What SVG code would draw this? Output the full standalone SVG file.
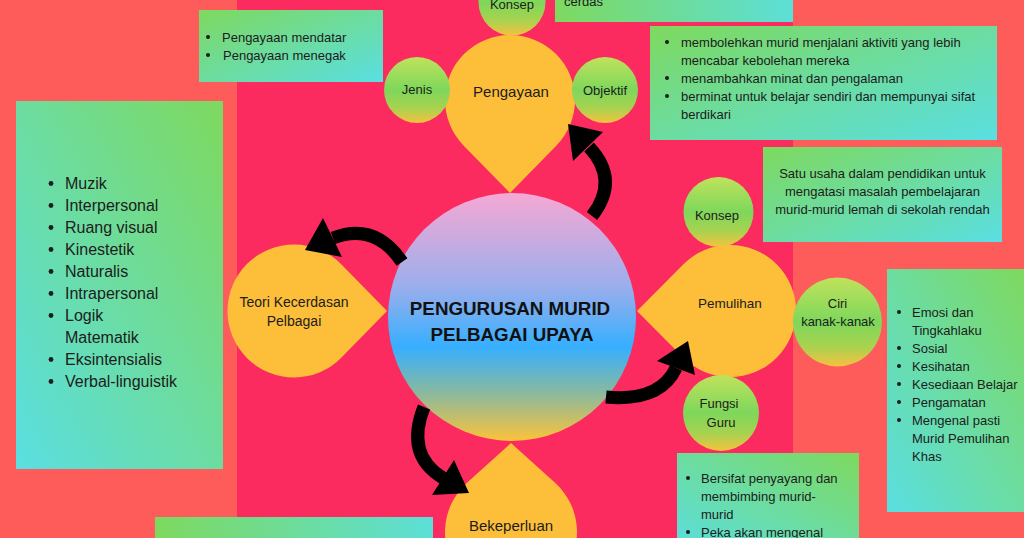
<svg xmlns="http://www.w3.org/2000/svg" width="1024" height="538" viewBox="0 0 1024 538">
<defs>
<linearGradient id="boxA" x1="0" y1="0" x2="1" y2="1"><stop offset="0" stop-color="#7ED95E"/><stop offset="1" stop-color="#5ADFE2"/></linearGradient>
<linearGradient id="boxB" x1="1" y1="0" x2="0" y2="1"><stop offset="0" stop-color="#7ED95E"/><stop offset="1" stop-color="#5ADFE2"/></linearGradient>
<linearGradient id="boxC" x1="0" y1="0" x2="1" y2="0"><stop offset="0" stop-color="#7ED95E"/><stop offset="1" stop-color="#5CDFD8"/></linearGradient>
<linearGradient id="boxD" x1="0" y1="1" x2="1" y2="0"><stop offset="0" stop-color="#5ADFE2"/><stop offset="1" stop-color="#7ED95E"/></linearGradient>
<linearGradient id="small" x1="0" y1="0" x2="0" y2="1"><stop offset="0" stop-color="#C0E25C"/><stop offset="0.5" stop-color="#7ED75B"/><stop offset="0.78" stop-color="#A9D24F"/><stop offset="1" stop-color="#F6C13F"/></linearGradient>
<linearGradient id="core" x1="0" y1="0" x2="0" y2="1"><stop offset="0" stop-color="#F6A8D4"/><stop offset="0.38" stop-color="#9AAEEC"/><stop offset="0.62" stop-color="#36AFFF"/><stop offset="0.8" stop-color="#86B9A2"/><stop offset="1" stop-color="#FCC23A"/></linearGradient>
</defs>
<style>
text{font-family:"Liberation Sans",Arial,sans-serif;fill:#1c1c1c}
.t13{font-size:13px}
.t15{font-size:15px}
.t16{font-size:16px}
.mid{text-anchor:middle}
.drop{fill:#FDBF3A}
.sc{fill:url(#small)}
.bul{fill:#1c1c1c}
.arr{fill:none;stroke:#000;stroke-width:13}
.head{fill:#000}
</style>
<rect x="0" y="0" width="1024" height="538" fill="#FE5B5B"/>
<rect x="237" y="0" width="556" height="538" fill="#FB2A5F"/>

<g id="box-top-right">
<rect x="555" y="-20" width="238" height="42" fill="url(#boxC)"/>
<text class="t13" x="564" y="6">cerdas</text>
</g>

<g id="box-jenis">
<rect x="199" y="10" width="184" height="72" fill="url(#boxA)"/>
<circle class="bul" cx="208" cy="37" r="2"/><text class="t13" x="222" y="41.5">Pengayaan mendatar</text>
<circle class="bul" cx="208" cy="55" r="2"/><text class="t13" x="223" y="59.5">Pengayaan menegak</text>
</g>

<g id="box-objektif">
<rect x="650" y="26" width="347" height="114" fill="url(#boxA)"/>
<circle class="bul" cx="667" cy="42" r="2"/><text class="t13" x="681" y="46.5">membolehkan murid menjalani aktiviti yang lebih</text>
<text class="t13" x="681" y="64.5">mencabar kebolehan mereka</text>
<circle class="bul" cx="667" cy="78" r="2"/><text class="t13" x="681" y="82.5">menambahkan minat dan pengalaman</text>
<circle class="bul" cx="667" cy="96" r="2"/><text class="t13" x="681" y="100.5">berminat untuk belajar sendiri dan mempunyai sifat</text>
<text class="t13" x="681" y="118.5">berdikari</text>
</g>

<g id="box-konsep-pemulihan">
<rect x="763" y="147" width="239" height="95" fill="url(#boxA)"/>
<text class="t13 mid" x="882.5" y="177.5">Satu usaha dalam pendidikan untuk</text>
<text class="t13 mid" x="882.5" y="195.5">mengatasi masalah pembelajaran</text>
<text class="t13 mid" x="882.5" y="213.5">murid-murid lemah di sekolah rendah</text>
</g>

<g id="box-kecerdasan">
<rect x="16" y="101" width="207" height="368" fill="url(#boxB)"/>
<circle class="bul" cx="51" cy="183.5" r="2.4"/><text class="t16" x="65" y="189">Muzik</text>
<circle class="bul" cx="51" cy="205.5" r="2.4"/><text class="t16" x="65" y="211">Interpersonal</text>
<circle class="bul" cx="51" cy="227.5" r="2.4"/><text class="t16" x="65" y="233">Ruang visual</text>
<circle class="bul" cx="51" cy="249.5" r="2.4"/><text class="t16" x="65" y="255">Kinestetik</text>
<circle class="bul" cx="51" cy="271.5" r="2.4"/><text class="t16" x="65" y="277">Naturalis</text>
<circle class="bul" cx="51" cy="293.5" r="2.4"/><text class="t16" x="65" y="299">Intrapersonal</text>
<circle class="bul" cx="51" cy="315.5" r="2.4"/><text class="t16" x="65" y="321">Logik</text>
<text class="t16" x="65" y="343">Matematik</text>
<circle class="bul" cx="51" cy="359.5" r="2.4"/><text class="t16" x="65" y="365">Eksintensialis</text>
<circle class="bul" cx="51" cy="381.5" r="2.4"/><text class="t16" x="65" y="387">Verbal-linguistik</text>
</g>

<g id="box-ciri">
<rect x="887" y="269" width="140" height="243" fill="url(#boxB)"/>
<circle class="bul" cx="899" cy="312" r="2"/><text class="t13" x="912" y="316.5">Emosi dan</text>
<text class="t13" x="912" y="334.5">Tingkahlaku</text>
<circle class="bul" cx="899" cy="348" r="2"/><text class="t13" x="912" y="352.5">Sosial</text>
<circle class="bul" cx="899" cy="366" r="2"/><text class="t13" x="912" y="370.5">Kesihatan</text>
<circle class="bul" cx="899" cy="384" r="2"/><text class="t13" x="912" y="388.5">Kesediaan Belajar</text>
<circle class="bul" cx="899" cy="402" r="2"/><text class="t13" x="912" y="406.5">Pengamatan</text>
<circle class="bul" cx="899" cy="420" r="2"/><text class="t13" x="912" y="424.5">Mengenal pasti</text>
<text class="t13" x="912" y="442.5">Murid Pemulihan</text>
<text class="t13" x="912" y="460.5">Khas</text>
</g>

<g id="box-fungsi-guru">
<rect x="677" y="453" width="182" height="100" fill="url(#boxD)"/>
<circle class="bul" cx="688" cy="478" r="2"/><text class="t13" x="701" y="482.5">Bersifat penyayang dan</text>
<text class="t13" x="701" y="500.5">membimbing murid-</text>
<text class="t13" x="701" y="518.5">murid</text>
<circle class="bul" cx="688" cy="532" r="2"/><text class="t13" x="701" y="536.5">Peka akan mengenal</text>
</g>

<g id="box-bottom-left">
<rect x="155" y="517" width="278" height="40" fill="url(#boxC)"/>
</g>

<g id="node-pengayaan">
<path class="drop" d="M510 193 L556.5 145.4 A65 65 0 1 0 463.5 145.4 Z"/>
<text class="t15 mid" x="511" y="96.5">Pengayaan</text>
</g>
<g id="node-pengayaan-konsep">
<circle class="sc" cx="512" cy="2" r="33.5"/>
<text class="t13 mid" x="512" y="8.5">Konsep</text>
</g>
<g id="node-jenis">
<circle class="sc" cx="417" cy="90" r="33"/>
<text class="t13 mid" x="417" y="94">Jenis</text>
</g>
<g id="node-objektif">
<circle class="sc" cx="605" cy="90" r="33"/>
<text class="t13 mid" x="605" y="95">Objektif</text>
</g>

<g id="node-teori">
<path class="drop" d="M387 311 L341.5 357.5 A66.5 66.5 0 1 1 341.5 264.5 Z"/>
<text class="mid" style="font-size:14px" x="294" y="307">Teori Kecerdasan</text>
<text class="mid" style="font-size:14px" x="294" y="326">Pelbagai</text>
</g>

<g id="node-pemulihan">
<path class="drop" d="M637 311 L683.2 264.5 A66 66 0 1 1 683.2 357.5 Z"/>
<text class="mid" style="font-size:13.5px" x="730" y="308">Pemulihan</text>
</g>
<g id="node-pemulihan-konsep">
<circle class="sc" cx="718.5" cy="212" r="35"/>
<text class="t13 mid" x="717" y="219.5">Konsep</text>
</g>
<g id="node-ciri">
<circle class="sc" cx="837.5" cy="322" r="44.5"/>
<text class="t13 mid" x="837.5" y="307.5">Ciri</text>
<text class="t13 mid" x="838" y="326">kanak-kanak</text>
</g>
<g id="node-fungsi">
<circle class="sc" cx="721" cy="413" r="38"/>
<text class="t13 mid" x="719" y="407.5">Fungsi</text>
<text class="t13 mid" x="721" y="426.5">Guru</text>
</g>

<g id="node-bekeperluan">
<path class="drop" d="M511 443 L555.3 483.1 A66 66 0 1 1 466.7 483.1 Z"/>
<text class="t15 mid" x="511" y="531">Bekeperluan</text>
</g>

<g id="node-center">
<circle cx="512" cy="317" r="124" fill="url(#core)"/>
<text class="mid" style="font-size:18.8px;font-weight:bold;fill:#111" x="510" y="314.5">PENGURUSAN MURID</text>
<text class="mid" style="font-size:18.8px;font-weight:bold;fill:#111" x="512" y="341">PELBAGAI UPAYA</text>
</g>

<g id="connectors">
<path class="arr" d="M592 216 Q620 180 589 147"/>
<polygon class="head" points="568,124 603,132 573,161"/>
<path class="arr" d="M402 262 Q375 222 333 238"/>
<polygon class="head" points="305,250 323,218 342,257"/>
<path class="arr" d="M424 407 Q405 455 443 478"/>
<polygon class="head" points="432,495 469,493 454,460"/>
<path class="arr" d="M606 397 Q660 402 676 368"/>
<polygon class="head" points="657,361 688,341 695,375"/>
</g>
</svg>
